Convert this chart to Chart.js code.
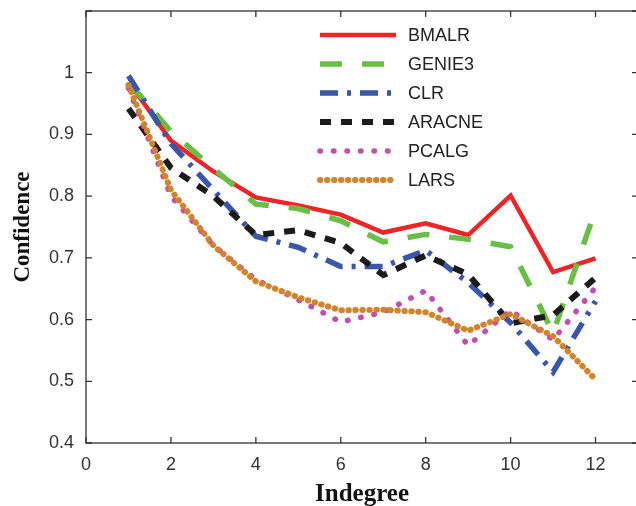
<!DOCTYPE html>
<html>
<head>
<meta charset="utf-8">
<script src="https://cdn.jsdelivr.net/npm/chart.js@4"></script>
<style>
  html, body { margin: 0; padding: 0; background: #fff; overflow: hidden; }
  #wrap { position: absolute; left: 0; top: 0; width: 650px; height: 506px; }
</style>
</head>
<body>
<div id="wrap"><canvas id="chart"></canvas></div>
<script>
// Indegree vs confidence, one array per method
const indegree = [1, 2, 3, 4, 5, 6, 7, 8, 9, 10, 11, 12];
const bmalr  = [0.985, 0.89, 0.84, 0.798, 0.785, 0.77, 0.741, 0.756, 0.737, 0.801, 0.677, 0.699];
const genie3 = [0.985, 0.905, 0.845, 0.787, 0.78, 0.76, 0.726, 0.738, 0.73, 0.718, 0.578, 0.778];
const clr    = [0.995, 0.885, 0.81, 0.735, 0.717, 0.686, 0.686, 0.712, 0.66, 0.595, 0.515, 0.63];
const aracne = [0.942, 0.846, 0.80, 0.737, 0.745, 0.724, 0.672, 0.704, 0.673, 0.594, 0.607, 0.668];
const pcalg  = [0.975, 0.80, 0.72, 0.665, 0.632, 0.596, 0.612, 0.647, 0.558, 0.615, 0.567, 0.652];
const lars   = [0.98, 0.81, 0.72, 0.662, 0.636, 0.615, 0.616, 0.612, 0.582, 0.609, 0.573, 0.503];

const xTickLabels = ['0', '2', '4', '6', '8', '10', '12'];
const yTickLabels = ['0.4', '0.5', '0.6', '0.7', '0.8', '0.9', '1'];

const pts = arr => arr.map((v, i) => ({ x: indegree[i], y: v }));

function series(label, data, color, dash, width, order, cap) {
    return {
        label, data: pts(data),
        borderColor: color, backgroundColor: color,
        borderWidth: width, borderDash: dash,
        borderCapStyle: cap || 'butt',
        pointRadius: 0, tension: 0, fill: false, order
    };
}

// box frame + inward ticks (MATLAB look)
const framePlugin = {
    id: 'frame',
    afterDatasetsDraw(chart) {
        const { ctx, chartArea: a, scales: { x, y } } = chart;
        ctx.save();
        ctx.strokeStyle = '#333';
        ctx.lineWidth = 1.3;
        ctx.setLineDash([]);
        ctx.strokeRect(a.left, a.top, a.right - a.left, a.bottom - a.top);
        const t = 6;
        ctx.beginPath();
        x.ticks.forEach(tk => {
            const px = x.getPixelForValue(tk.value);
            ctx.moveTo(px, a.bottom); ctx.lineTo(px, a.bottom - t);
            ctx.moveTo(px, a.top);    ctx.lineTo(px, a.top + t);
        });
        y.ticks.forEach(tk => {
            const py = y.getPixelForValue(tk.value);
            ctx.moveTo(a.left, py);  ctx.lineTo(a.left + t, py);
            ctx.moveTo(a.right, py); ctx.lineTo(a.right - t, py);
        });
        ctx.stroke();
        ctx.restore();
    }
};

// legend drawn inside plot, no box
const legendPlugin = {
    id: 'innerLegend',
    afterDraw(chart) {
        const { ctx } = chart;
        ctx.save();
        chart.data.datasets.forEach((ds, i) => {
            const yy = 35 + i * 29;
            ctx.beginPath();
            ctx.strokeStyle = ds.borderColor;
            ctx.lineWidth = ds.borderWidth;
            ctx.lineCap = ds.borderCapStyle;
            ctx.setLineDash(ds.borderDash);
            ctx.moveTo(320, yy);
            ctx.lineTo(396, yy);
            ctx.stroke();
            ctx.setLineDash([]);
            ctx.fillStyle = '#222';
            ctx.font = '18px "Liberation Sans", Arial, sans-serif';
            ctx.textBaseline = 'middle';
            ctx.fillText(ds.label, 408, yy + 1);
        });
        ctx.restore();
    }
};

new Chart(document.getElementById('chart'), {
    type: 'line',
    data: {
        datasets: [
            series('BMALR',  bmalr,  '#ee2427', [],             4.5, 6),
            series('GENIE3', genie3, '#6abd45', [22, 20],       5.5, 5),
            series('CLR',    clr,    '#3a56a8', [18, 9, 4, 9],  5.5, 4),
            series('ARACNE', aracne, '#1b1b1b', [11, 10],       6,   3),
            series('PCALG',  pcalg,  '#c14fae', [0.5, 13],      5.5, 2, 'round'),
            series('LARS',   lars,   '#d0842c', [0.5, 6.5],     6,   1, 'round')
        ]
    },
    options: {
        responsive: true,
        maintainAspectRatio: false,
        animation: false,
        layout: { padding: { top: 11, right: 12, left: 0, bottom: 0 } },
        plugins: { legend: { display: false }, tooltip: { enabled: false } },
        scales: {
            x: {
                type: 'linear', min: 0, max: 13,
                grid: { display: false, drawTicks: false },
                border: { display: false },
                afterFit: s => { s.height = 63; s.paddingRight = 0; },
                ticks: {
                    stepSize: 2, padding: 11, maxRotation: 0,
                    color: '#333',
                    font: { family: '"Liberation Sans", Arial, sans-serif', size: 18 },
                    callback: v => xTickLabels.includes(String(v)) ? String(v) : ''
                },
                title: {
                    display: true, text: 'Indegree', color: '#111',
                    font: { family: '"Liberation Serif", "Times New Roman", serif', size: 25, weight: 'bold', lineHeight: 1 },
                    padding: { top: 0, bottom: -1 }
                }
            },
            y: {
                min: 0.4, max: 1.1,
                grid: { display: false, drawTicks: false },
                border: { display: false },
                afterFit: s => { s.width = 86; s.paddingTop = 0; s.paddingBottom = 0; },
                ticks: {
                    stepSize: 0.1, padding: 12,
                    color: '#333',
                    font: { family: '"Liberation Sans", Arial, sans-serif', size: 18 },
                    callback: v => {
                        const s = String(parseFloat(v.toFixed(1)));
                        return yTickLabels.includes(s) ? s : '';
                    }
                },
                title: {
                    display: true, text: 'Confidence', color: '#111',
                    font: { family: '"Liberation Serif", "Times New Roman", serif', size: 23, weight: 'bold', lineHeight: 1 },
                    padding: { top: 12, bottom: 0 }
                }
            }
        }
    },
    plugins: [framePlugin, legendPlugin]
});
</script>
</body>
</html>
